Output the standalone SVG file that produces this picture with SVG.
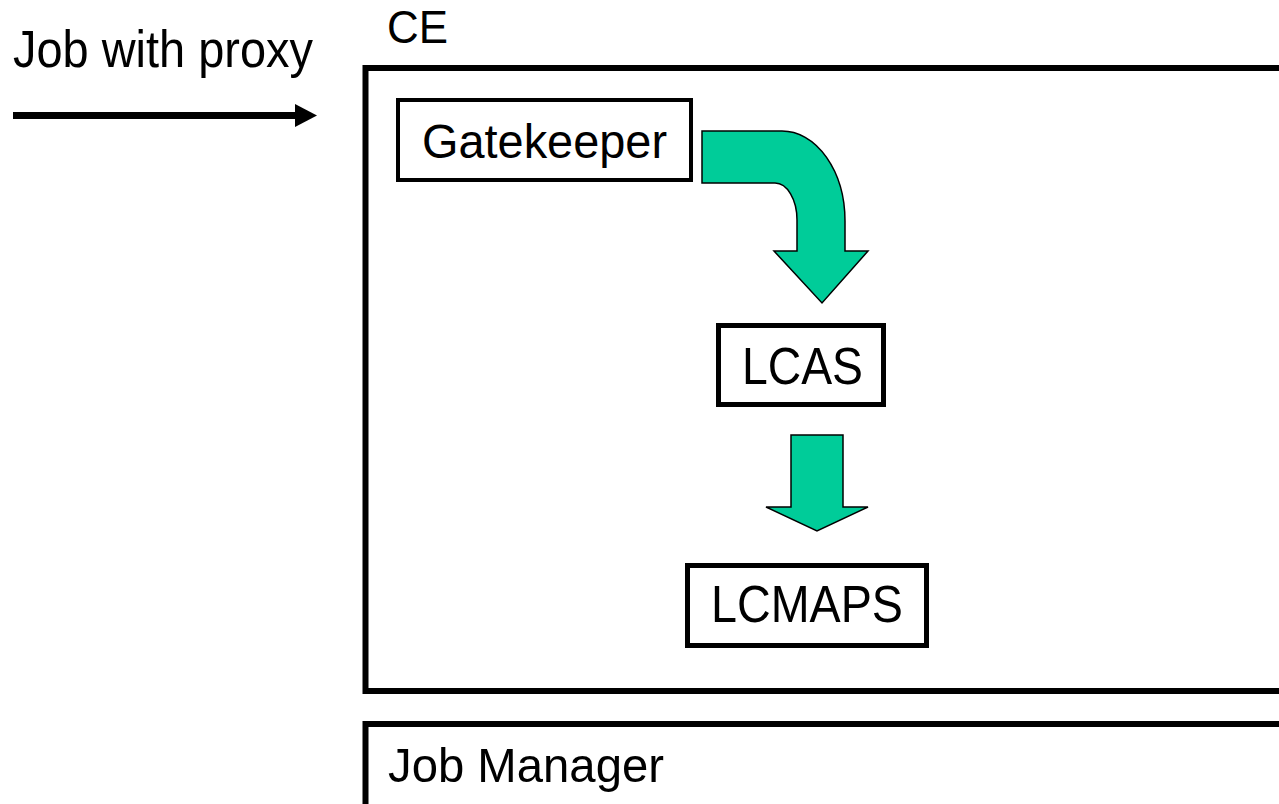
<svg xmlns="http://www.w3.org/2000/svg" width="1279" height="804" viewBox="0 0 1279 804">
<style>
  text { font-family: "Liberation Sans", Arial, sans-serif; fill: #000; }
  .box { fill: #fff; stroke: #000; }
  .green { fill: #00CC99; stroke: #000; stroke-width: 1.5; stroke-linejoin: miter; }
</style>
<rect x="0" y="0" width="1279" height="804" fill="#fff"/>
<g id="label-job">
  <text x="13" y="67" font-size="52" textLength="300" lengthAdjust="spacingAndGlyphs">Job with proxy</text>
</g>
<g id="ce">
  <rect class="box" x="365.5" y="68" width="940" height="623" stroke-width="6"/>
  <text x="387" y="43" font-size="46" textLength="61" lengthAdjust="spacingAndGlyphs">CE</text>
</g>
<g id="jobmanager">
  <rect class="box" x="365.5" y="724" width="940" height="120" stroke-width="6"/>
  <text x="388" y="782" font-size="49" textLength="276" lengthAdjust="spacingAndGlyphs">Job Manager</text>
</g>
<g id="gatekeeper">
  <rect class="box" x="398" y="100" width="293" height="80" stroke-width="4"/>
  <text x="422" y="158" font-size="48" textLength="245" lengthAdjust="spacingAndGlyphs">Gatekeeper</text>
</g>
<g id="lcas">
  <rect class="box" x="718.5" y="325.5" width="165" height="79" stroke-width="5"/>
  <text x="742" y="384" font-size="51" textLength="121" lengthAdjust="spacingAndGlyphs">LCAS</text>
</g>
<g id="lcmaps">
  <rect class="box" x="687.5" y="565.5" width="239" height="80" stroke-width="5"/>
  <text x="711" y="622" font-size="51" textLength="192" lengthAdjust="spacingAndGlyphs">LCMAPS</text>
</g>
<g id="connectors">
  <line x1="13" y1="115.5" x2="297" y2="115.5" stroke="#000" stroke-width="7"/>
  <polygon points="295,104 317,115.5 295,127" fill="#000"/>
  <path class="green" d="M702 131 H782 A63 90 0 0 1 845 221 V251 H868 L822 303 L774 251 H797 V220 A22 37 0 0 0 775 183 H702 Z"/>
  <path class="green" d="M791 435 H843 V507 H868 L817 531 L766 507 H791 Z"/>
</g>
</svg>
